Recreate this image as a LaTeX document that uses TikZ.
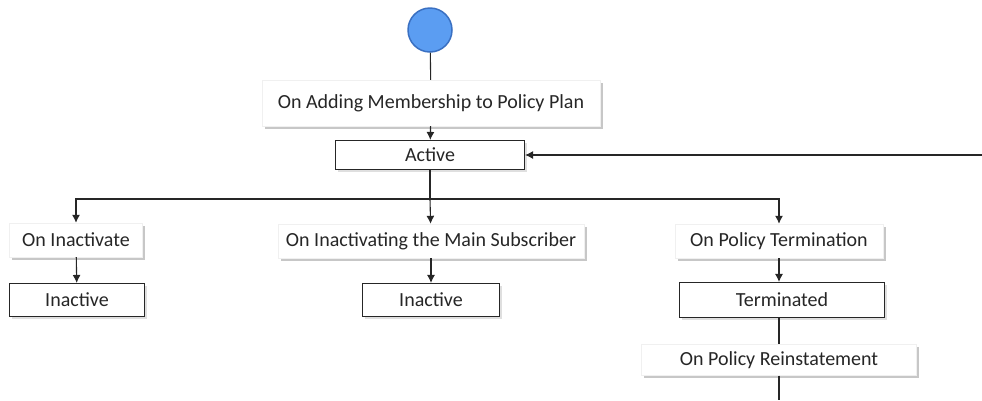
\documentclass[tikz,border=0pt]{standalone}
\usepackage{fontspec}
\setmainfont{Carlito}
\usetikzlibrary{arrows.meta,shadows}

\definecolor{startfill}{HTML}{5B9DF2}
\definecolor{startline}{HTML}{3A70C2}

\tikzset{
  event/.style={fill=white,draw=black!6,text=black!85,inner sep=0pt,minimum height=34pt,
    drop shadow={shadow xshift=2.5pt,shadow yshift=-2.5pt,fill=black!40,opacity=.55}},
  state/.style={draw=black!85,line width=1.1pt,fill=white,text=black!85,inner sep=0pt,minimum height=33pt,
    drop shadow={shadow xshift=2pt,shadow yshift=-2pt,fill=black!25,opacity=.5}},
  flow/.style={line width=1.1pt,draw=black!85},
  arr/.style={flow,-{Latex[length=8pt,width=8pt]}}
}

\begin{document}
\begin{tikzpicture}[x=1pt,y=-1pt,font=\fontsize{20}{24}\selectfont]
\useasboundingbox (0,0) rectangle (982,400);
% start and first event
\node[circle,draw=startline,fill=startfill,line width=1.5pt,minimum size=44pt,inner sep=0pt] (start) at (430,30) {};
\node[event,minimum width=338pt,minimum height=46pt] (adding) at (431,103) {On Adding Membership to Policy Plan};
\node[state,minimum width=189pt,minimum height=29pt] (active) at (430,155) {Active};
% branches
\node[event,minimum width=133pt] (oninact) at (76,240) {On Inactivate};
\node[state,minimum width=135pt] (inact) at (77,300) {Inactive};
\node[event,minimum width=306pt] (onmain) at (431,241) {On Inactivating the Main Subscriber};
\node[state,minimum width=137pt] (mainact) at (431,300) {Inactive};
\node[event,minimum width=208pt] (onterm) at (779,241) {On Policy Termination};
\node[state,minimum width=205pt,minimum height=35pt] (term) at (782,300) {Terminated};
\node[event,minimum width=275pt,minimum height=31pt] (onreinst) at (779,360) {On Policy Reinstatement};
% free ends
\coordinate (fork) at (430,199);
\coordinate (back) at (982,155);
\coordinate (exit) at (779,400);
% connectors
\draw[flow] (start) -- (adding);
\draw[arr] (adding) -- (active);
\draw[arr] (back) -- (active);
\draw[flow] (active) -- (fork);
\draw[arr] (fork) -| (oninact);
\draw[arr] (fork) -- (onmain);
\draw[arr] (fork) -| (onterm);
\draw[arr] (oninact) -- (inact);
\draw[arr] (onmain) -- (mainact);
\draw[arr] (onterm) -- (onterm |- term.north);
\draw[flow] (term.south -| onreinst) -- (onreinst);
\draw[flow] (onreinst) -- (exit);
\end{tikzpicture}
\end{document}
